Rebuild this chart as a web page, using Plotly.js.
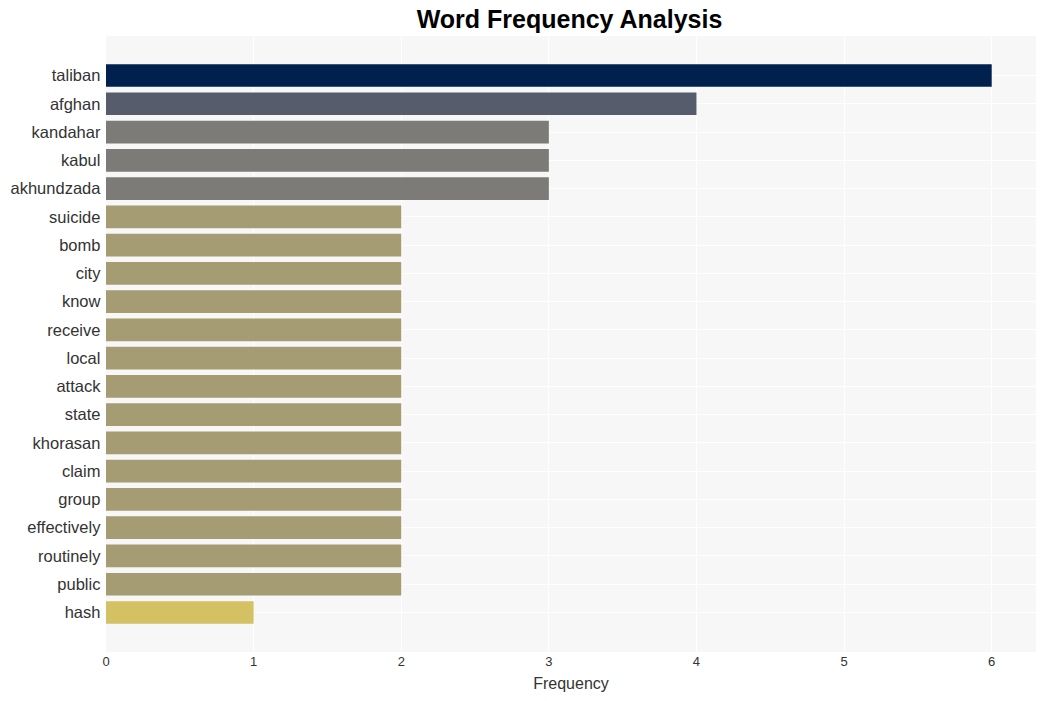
<!DOCTYPE html>
<html>
<head>
<meta charset="utf-8">
<script src="https://cdn.plot.ly/plotly-3.0.1.min.js"></script>
<style>html,body{margin:0;padding:0;background:#fff;}#chart{width:1045px;height:701px;}</style>
</head>
<body>
<div id="chart"></div>
<script>
const words = ["taliban","afghan","kandahar","kabul","akhundzada","suicide","bomb","city","know","receive","local","attack","state","khorasan","claim","group","effectively","routinely","public","hash"];
const counts = [6,4,3,3,3,2,2,2,2,2,2,2,2,2,2,2,2,2,2,1];
const barColors = ["#00204d","#575c6d","#7c7b78","#7c7b78","#7c7b78","#a59c74","#a59c74","#a59c74","#a59c74","#a59c74","#a59c74","#a59c74","#a59c74","#a59c74","#a59c74","#a59c74","#a59c74","#a59c74","#a59c74","#d3c164"];
const xTicks = [0,1,2,3,4,5,6];

Plotly.newPlot("chart", [{
  type: "bar",
  orientation: "h",
  x: counts,
  y: words,
  marker: {color: barColors},
  width: 0.8,
  hoverinfo: "x+y"
}], {
  width: 1045,
  height: 701,
  margin: {l: 106, r: 9, t: 36, b: 49},
  paper_bgcolor: "#ffffff",
  plot_bgcolor: "#f7f7f7",
  font: {family: "Liberation Sans, Arial, sans-serif", color: "#333"},
  title: {text: "<b>Word Frequency Analysis</b>", x: 0.545, xanchor: "center", y: 0.972, yanchor: "middle", font: {size: 25, color: "#000", family: "Liberation Sans, Arial, sans-serif"}},
  xaxis: {
    range: [0, 6.3],
    tickvals: xTicks,
    ticktext: xTicks.map(String),
    gridcolor: "#ffffff",
    gridwidth: 1,
    zeroline: false,
    showline: false,
    tickfont: {size: 13, color: "#333"},
    title: {text: "Frequency", font: {size: 16, color: "#333"}, standoff: 9}
  },
  yaxis: {
    categoryorder: "array",
    categoryarray: words,
    range: [20.4, -1.4],
    gridcolor: "#ffffff",
    gridwidth: 1,
    zeroline: false,
    showline: false,
    ticks: "",
    ticksuffix: " ",
    tickfont: {size: 16.5, color: "#333"}
  },
  bargap: 0.2,
  showlegend: false
}, {displayModeBar: false});
</script>
</body>
</html>
